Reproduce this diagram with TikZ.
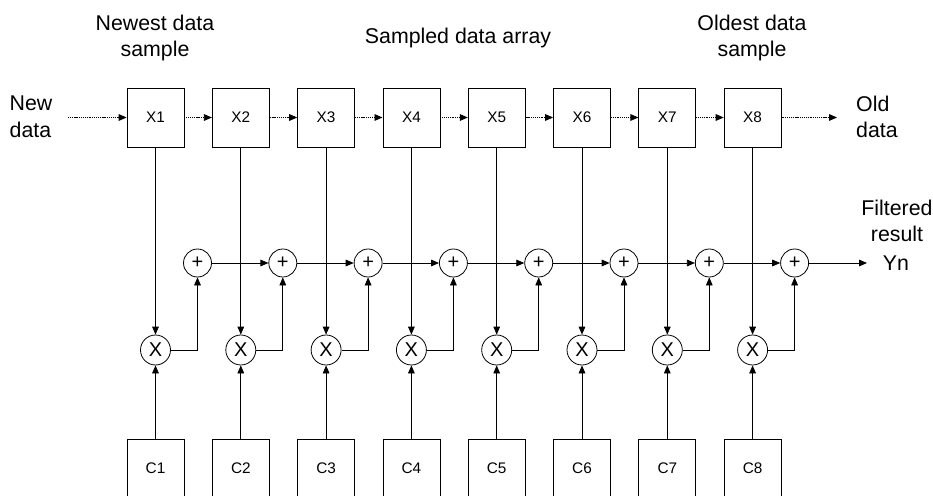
\documentclass[tikz,border=0pt]{standalone}
\usepackage{fontspec}
\setmainfont{Liberation Sans}
\usetikzlibrary{arrows.meta,positioning,calc}

\begin{document}
\begin{tikzpicture}[x=0.75pt,y=0.75pt,
  reg/.style={rectangle,draw,line width=0.6pt,minimum width=42.75pt,
              minimum height=44.25pt,inner sep=0pt,font=\fontsize{11.5}{13}\selectfont},
  mul/.style={circle,draw,line width=0.6pt,minimum size=22.5pt,inner sep=0pt,
              font=\fontsize{15}{17}\selectfont},
  add/.style={circle,draw,line width=0.6pt,minimum size=21pt,inner sep=0pt,
              font=\fontsize{15}{17}\selectfont},
  lbl/.style={font=\fontsize{16}{20}\selectfont,align=center},
  sig/.style={-{Triangle[length=6pt,width=5pt]},line width=0.6pt},
  shiftline/.style={-{Triangle[length=6pt,width=5pt]},line width=0.6pt,
                    dash pattern=on 0.8pt off 0.6pt}
]
  \useasboundingbox (0,0) rectangle (933,-496);
  % taps
  \foreach \i in {1,...,8} {
    \pgfmathsetmacro{\xx}{155.5+85.3*(\i-1)}
    \node[reg] (X\i) at (\xx,-117.5) {X\i};
    \node[mul] (M\i) at (\xx,-350) {X};
    \node[add] (A\i) at (\xx+42,-263) {+};
    \node[reg] (C\i) at (\xx,-468.5) {C\i};
  }
  % labels
  \node[lbl] (newest) at (155,-38) {Newest data\\sample};
  \node[lbl] (array) at (458,-38) {Sampled data array};
  \node[lbl] (oldest) at (752,-38) {Oldest data\\sample};
  \node[lbl,align=left] (newdata) at (31,-117) {New\\data};
  \node[lbl,align=left] (olddata) at (877,-117) {Old\\data};
  \node[lbl] (filt) at (897,-221) {Filtered\\result};
  \node[lbl] (yn) at (896,-263) {Yn};
  % connectors
  \coordinate (in) at (68,-117.5);
  \coordinate (out) at (837,-117.5);
  \coordinate (yout) at (867,-263);
  \draw[shiftline] (in) -- (X1);
  \draw[shiftline] (X8) -- (out);
  \foreach \i [evaluate=\i as \j using int(\i+1)] in {1,...,7} {
    \draw[shiftline] (X\i) -- (X\j);
    \draw[sig] (A\i) -- (A\j);
  }
  \foreach \i in {1,...,8} {
    \draw[sig] (X\i) -- (M\i);
    \draw[sig] (C\i) -- (M\i);
    \draw[sig] (M\i) -| (A\i);
  }
  \draw[sig] (A8) -- (yout);
\end{tikzpicture}
\end{document}
